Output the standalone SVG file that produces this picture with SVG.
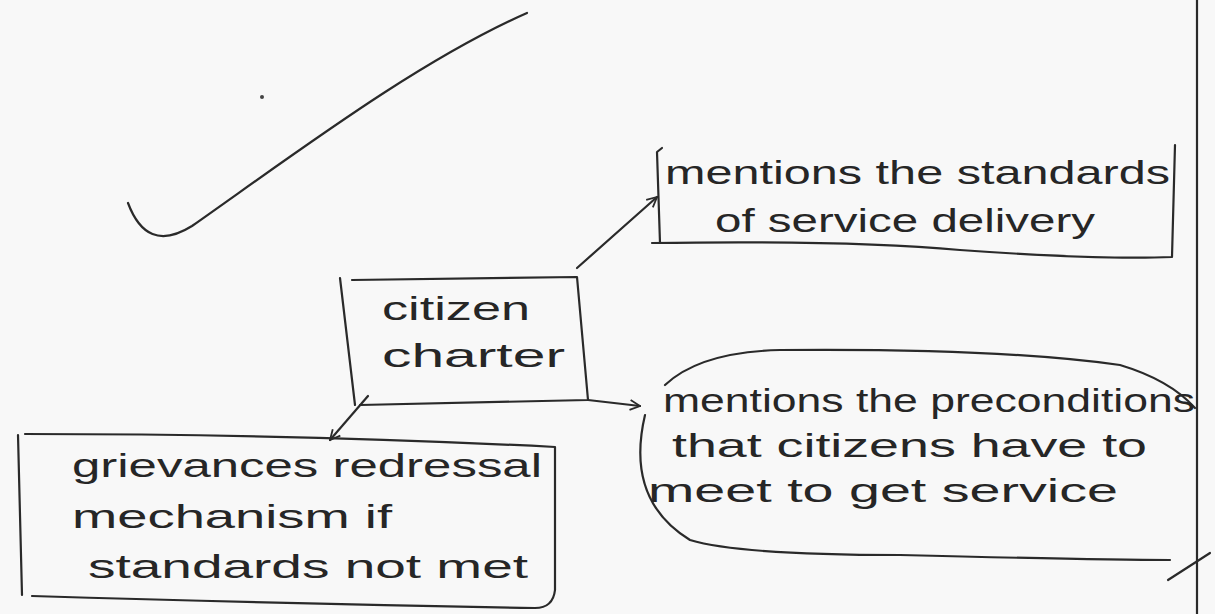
<svg xmlns="http://www.w3.org/2000/svg" width="1215" height="614" viewBox="0 0 1215 614">
<defs>
<style>
.ln{fill:none;stroke:#2a2a2a;stroke-width:2.2;stroke-linecap:round;stroke-linejoin:round}
.tx{font-family:"Liberation Sans",Arial,sans-serif;font-size:34px;fill:#262626}
</style>
<marker id="ah" viewBox="0 0 12 12" refX="11" refY="6" markerWidth="12" markerHeight="12" markerUnits="userSpaceOnUse" orient="auto">
<path d="M1,1 L11,6 L1,11" fill="none" stroke="#2a2a2a" stroke-width="1.8"/>
</marker>
</defs>
<rect width="1215" height="614" fill="#f8f8f8"/>
<path class="ln" d="M1197,0 L1197,614"/>
<path class="ln" d="M128,203 C140,235 160,246 192,226 C300,150 420,60 527,13" stroke-width="1.6" stroke="#444"/>
<circle cx="262" cy="97" r="2" fill="#444"/>
<path class="ln" d="M1168,580 L1210,553" stroke-width="1.6"/>

<g id="node-standards">
<path class="ln" d="M662,148 L657,152 L660,243"/>
<path class="ln" d="M652,243 Q850,240 960,250 Q1100,260 1172,257 L1175,145"/>
<text class="tx" x="665" y="184" textLength="505" lengthAdjust="spacingAndGlyphs">mentions the standards</text>
<text class="tx" x="715" y="232" textLength="380" lengthAdjust="spacingAndGlyphs">of service delivery</text>
</g>

<g id="node-charter">
<path class="ln" d="M340,278 L355,405 M352,280 L577,277 L588,400 L360,405"/>
<text class="tx" x="382" y="320" textLength="148" lengthAdjust="spacingAndGlyphs">citizen</text>
<text class="tx" x="382" y="367" textLength="183" lengthAdjust="spacingAndGlyphs">charter</text>
</g>

<g id="node-grievance">
<path class="ln" d="M18,435 L22,595"/>
<path class="ln" d="M25,434 Q300,434 555,447 L555,590 Q553,608 535,608 Q300,604 32,596"/>
<text class="tx" x="72" y="477" textLength="470" lengthAdjust="spacingAndGlyphs">grievances redressal</text>
<text class="tx" x="72" y="528" textLength="320" lengthAdjust="spacingAndGlyphs">mechanism  if</text>
<text class="tx" x="88" y="578" textLength="440" lengthAdjust="spacingAndGlyphs">standards  not met</text>
</g>

<g id="node-preconditions">
<path class="ln" d="M665,385 Q700,352 780,350 Q1000,348 1120,365 Q1170,380 1195,408"/>
<path class="ln" d="M645,415 Q625,500 690,540 Q740,555 900,555 Q1100,560 1170,560"/>
<text class="tx" x="663" y="412" textLength="532" lengthAdjust="spacingAndGlyphs">mentions the preconditions</text>
<text class="tx" x="672" y="457" textLength="475" lengthAdjust="spacingAndGlyphs">that citizens have to</text>
<text class="tx" x="648" y="502" textLength="470" lengthAdjust="spacingAndGlyphs">meet to get service</text>
</g>

<g id="connectors">
<path class="ln" d="M577,268 L657,197" marker-end="url(#ah)"/>
<path class="ln" d="M588,400 L640,406" marker-end="url(#ah)"/>
<path class="ln" d="M368,396 L330,440" marker-end="url(#ah)"/>
</g>
</svg>
